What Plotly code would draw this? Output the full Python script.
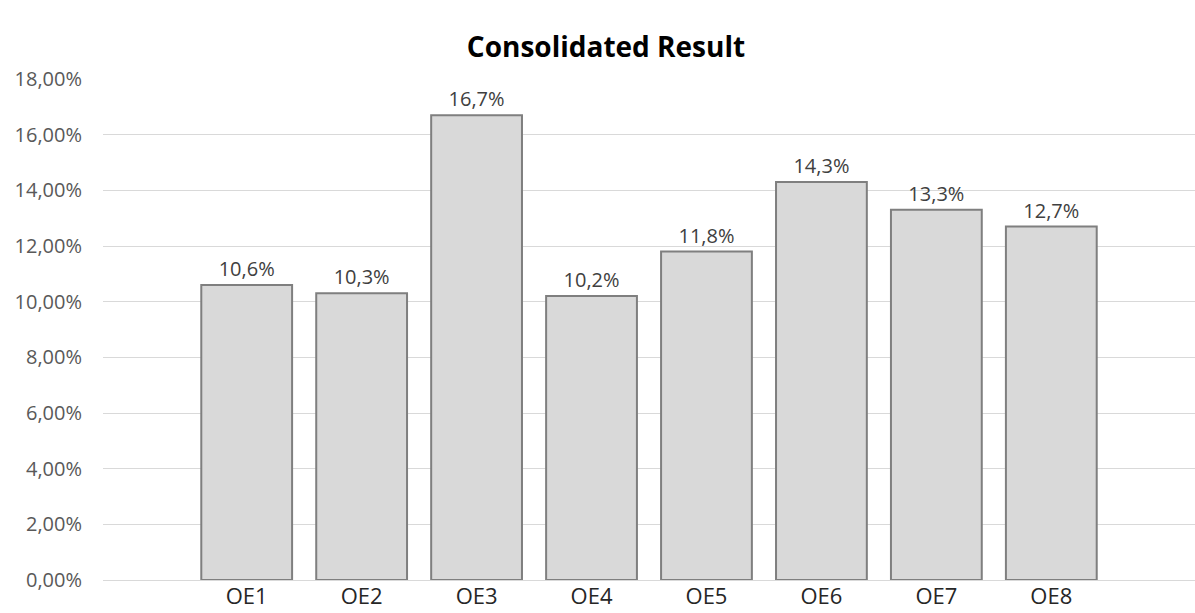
import plotly.graph_objects as go

categories = ["OE1", "OE2", "OE3", "OE4", "OE5", "OE6", "OE7", "OE8"]
values = [0.106, 0.103, 0.167, 0.102, 0.118, 0.143, 0.133, 0.127]
y_ticks = [0.0, 0.02, 0.04, 0.06, 0.08, 0.10, 0.12, 0.14, 0.16, 0.18]

positions = list(range(1, len(categories) + 1))

fig = go.Figure(
    go.Bar(
        x=positions,
        y=values,
        width=0.79,
        marker=dict(color="#d9d9d9", line=dict(color="#7f7f7f", width=2)),
        texttemplate="%{y:.1%}",
        textposition="outside",
        textfont=dict(family="Open Sans", size=20, color="#404040"),
        cliponaxis=False,
    )
)

fig.update_layout(
    width=1195,
    height=613,
    margin=dict(l=103, r=0, t=79, b=33),
    paper_bgcolor="white",
    plot_bgcolor="white",
    separators=",.",
    showlegend=False,
    title=dict(
        text="<b>Consolidated Result</b>",
        x=606 / 1195,
        xanchor="center",
        y=1 - 47 / 613,
        yanchor="middle",
        font=dict(family="Open Sans", size=28, color="#000000"),
    ),
    xaxis=dict(
        range=[-0.25, 9.25],
        tickvals=positions,
        ticktext=categories,
        showgrid=False,
        zeroline=False,
        showline=True,
        linecolor="#d9d9d9",
        linewidth=1,
        ticks="",
        automargin=False,
        ticklabelstandoff=-3,
        tickfont=dict(family="Open Sans", size=22, color="#262626"),
    ),
    yaxis=dict(
        range=[0, 0.18],
        tickvals=y_ticks,
        tickformat=".2%",
        showgrid=True,
        gridcolor="#d9d9d9",
        gridwidth=1,
        zeroline=False,
        showline=False,
        ticks="",
        automargin=False,
        ticklabelstandoff=20,
        tickfont=dict(family="Open Sans", size=20, color="#595959"),
    ),
)

fig.write_html("out.html")
